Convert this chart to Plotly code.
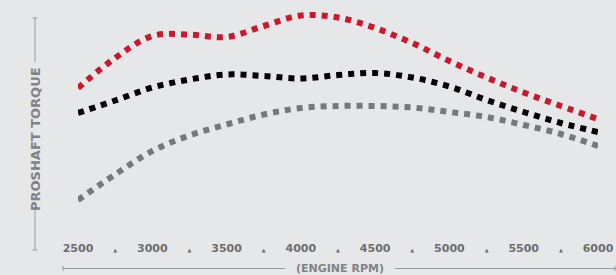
import plotly.graph_objects as go

# ---- data ----
rpm = [2500, 2750, 3000, 3250, 3500, 3750, 4000, 4250, 4500, 4750, 5000, 5250, 5500, 5750, 6000]
torque_red = [149, 179, 201, 202.5, 200, 211, 221.5, 219.5, 209, 194, 176, 159.5, 144.5, 131, 118]
torque_black = [124, 136.5, 149.5, 157.5, 162.5, 161, 158.5, 162, 164, 159.5, 150.5, 137, 125, 114, 105]
torque_gray = [37, 62.5, 86, 101.5, 112.5, 122.5, 129, 131, 131, 129.5, 125, 120, 112, 103, 91]

tick_vals = [2500, 2750, 3000, 3250, 3500, 3750, 4000, 4250, 4500, 4750, 5000, 5250, 5500, 5750, 6000]
tick_labels = ["2500", "▲", "3000", "▲", "3500", "▲", "4000", "▲", "4500", "▲", "5000", "▲", "5500", "▲", "6000"]

x_title = "(ENGINE RPM)"
y_title = "PROSHAFT TORQUE"

# ---- styling ----
BG = "#e6e7e9"
TXT = "#6d6e71"
LINE = "#9a9b9d"
FONT = "DejaVu Sans"

W, H = 616, 275
ML, MR, MT, MB = 78, 18, 0, 38
PW, PH = W - ML - MR, H - MT - MB


def px(x):
    return (x - ML) / PW


def py(y):
    return (H - MB - y) / PH


series = [
    (torque_gray, "#77787b"),
    (torque_black, "#000000"),
    (torque_red, "#c8192e"),
]

fig = go.Figure()
for vals, col in series:
    fig.add_trace(go.Scatter(
        x=rpm, y=vals, mode="lines",
        line=dict(color=col, width=6, dash="dot", shape="spline", smoothing=1.0),
        hoverinfo="skip", showlegend=False, cliponaxis=False,
    ))

ticktext = [t if t != "▲" else "<span style='font-size:5px'>▲</span>" for t in tick_labels]

fig.update_xaxes(
    range=[2500, 6000], showgrid=False, zeroline=False, showline=False,
    tickmode="array", tickvals=tick_vals, ticktext=ticktext, ticks="",
    tickfont=dict(family=FONT, size=11, color=TXT, weight="bold"),
    ticklabelstandoff=3,
)
fig.update_yaxes(range=[0, PH], visible=False)

shapes = []
lc = dict(color=LINE, width=1)
# y-axis decoration
yx = px(35)
shapes.append(dict(type="line", xref="paper", yref="paper", x0=yx, x1=yx, y0=py(18), y1=py(62), line=lc))
shapes.append(dict(type="line", xref="paper", yref="paper", x0=yx, x1=yx, y0=py(207), y1=py(250), line=lc))
shapes.append(dict(type="line", xref="paper", yref="paper", x0=px(32.5), x1=px(37.5), y0=py(18), y1=py(18), line=lc))
shapes.append(dict(type="line", xref="paper", yref="paper", x0=px(32.5), x1=px(37.5), y0=py(250), y1=py(250), line=lc))
# x-axis decoration
xy = py(268.5)
shapes.append(dict(type="line", xref="paper", yref="paper", x0=px(63), x1=px(285), y0=xy, y1=xy, line=lc))
shapes.append(dict(type="line", xref="paper", yref="paper", x0=px(395), x1=px(616), y0=xy, y1=xy, line=lc))
shapes.append(dict(type="line", xref="paper", yref="paper", x0=px(63), x1=px(63), y0=py(266), y1=py(271), line=lc))
shapes.append(dict(type="line", xref="paper", yref="paper", x0=px(615), x1=px(615), y0=py(266), y1=py(271), line=lc))

annotations = [
    dict(text=y_title, xref="paper", yref="paper", x=px(35), y=py(139), textangle=-90,
         showarrow=False, xanchor="center", yanchor="middle",
         font=dict(family=FONT, size=13, color="#808285", weight="bold")),
    dict(text=x_title, xref="paper", yref="paper", x=px(339.5), y=py(268.5),
         showarrow=False, xanchor="center", yanchor="middle", borderpad=0,
         font=dict(family=FONT, size=11, color="#808285", weight="bold")),
]

fig.update_layout(
    width=W, height=H,
    margin=dict(l=ML, r=MR, t=MT, b=MB, pad=0),
    paper_bgcolor=BG, plot_bgcolor=BG,
    shapes=shapes, annotations=annotations,
    hovermode=False,
)

fig.write_html(
    "out.html",
    config={"displayModeBar": False},
    post_script="document.body.style.margin='0';document.body.style.background='%s';" % BG,
)
